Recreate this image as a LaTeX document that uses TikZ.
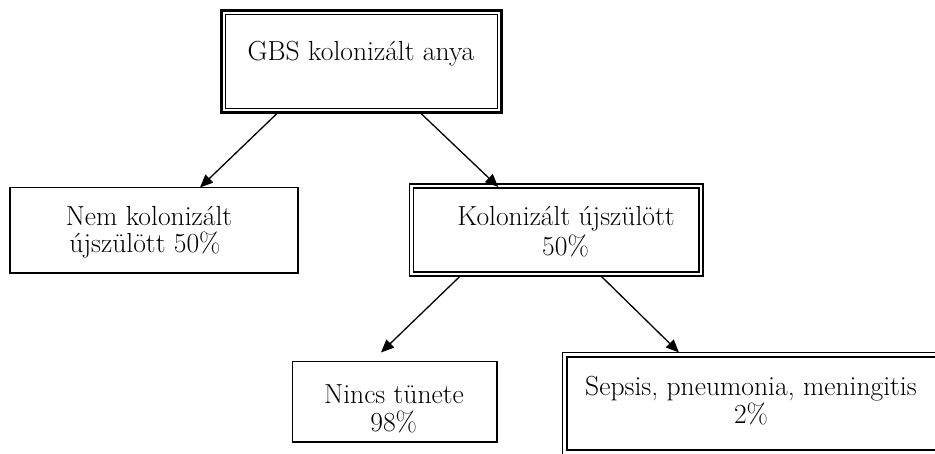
\documentclass[tikz,border=0pt]{standalone}
\usetikzlibrary{arrows.meta}
\begin{document}
\begin{tikzpicture}[x=1pt,y=-1pt,
  box/.style={draw, rectangle, outer sep=0pt, inner sep=0pt},
  lbl/.style={anchor=base, inner sep=0pt, font=\fontsize{27.6}{30}\selectfont},
  arr/.style={line width=1.3pt, -{Triangle[length=13pt,width=11pt]}}]
\useasboundingbox (0,0) rectangle (935,453);
\clip (0,0) rectangle (935,453);
% boxes
\node[box, line width=3pt, minimum width=280pt, minimum height=102.5pt] (top) at (361.5,61.25) {};
\draw[line width=1pt] ([shift={(3.5pt,-4.5pt)}]top.north west) rectangle ([shift={(-4.5pt,4.5pt)}]top.south east);
\node[box, line width=1.5pt, minimum width=288pt, minimum height=85.5pt] (nem) at (154,230.25) {};
\node[box, line width=1.6pt, minimum width=293.5pt, minimum height=92pt] (kol) at (556.25,230) {};
\draw[line width=1.5pt] ([shift={(4pt,-4pt)}]kol.north west) rectangle ([shift={(-4pt,4pt)}]kol.south east);
\node[box, line width=1.8pt, minimum width=204.5pt, minimum height=80.5pt] (nincs) at (394.75,401.75) {};
\node[box, line width=1.5pt, minimum width=378.5pt, minimum height=104.5pt] (sep) at (751.75,404.75) {};
\draw[line width=2pt] ([shift={(4.5pt,-4pt)}]sep.north west) rectangle ([shift={(-4.5pt,7pt)}]sep.south east);
% texts
\node[lbl] (t1) at (361,60.5) {GBS kolonizált anya};
\node[lbl] (t2a) at (149,225) {Nem kolonizált};
\node[lbl] (t2b) at (145,252) {újszülött 50\%};
\node[lbl] (t3a) at (566,225) {Kolonizált újszülött};
\node[lbl] (t3b) at (565.5,255) {50\%};
\node[lbl] (t4a) at (394,403) {Nincs tünete};
\node[lbl] (t4b) at (393.7,431) {98\%};
\node[lbl] (t5a) at (751,395) {Sepsis, pneumonia, meningitis};
\node[lbl] (t5b) at (751,423) {2\%};
% arrows
\draw[arr] ([xshift=-83.5pt]top.south) -- ([xshift=46pt]nem.north);
\draw[arr] ([xshift=58.5pt]top.south) -- ([xshift=-58pt,yshift=-3pt]kol.north);
\draw[arr] ([xshift=-96pt]kol.south) -- ([xshift=-13.75pt,yshift=9pt]nincs.north);
\draw[arr] ([xshift=44.75pt]kol.south) -- ([xshift=-72.75pt]sep.north);
\end{tikzpicture}
\end{document}
